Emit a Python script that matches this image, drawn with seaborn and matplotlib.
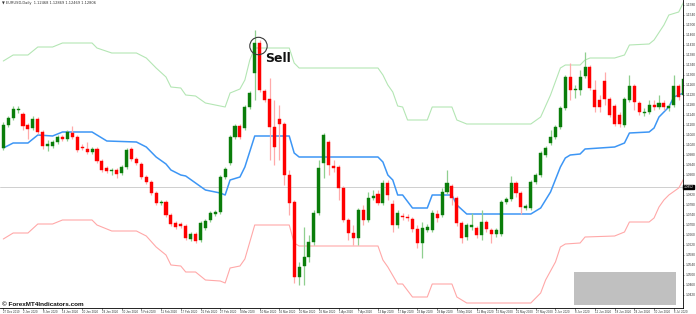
import numpy as np
import pandas as pd
import matplotlib
matplotlib.use("Agg")
import matplotlib.pyplot as plt
import seaborn as sns
from matplotlib.patches import Ellipse, Rectangle

opens = [1.1008, 1.1100, 1.1128, 1.1160, 1.1144, 1.1100, 1.1088, 1.1124, 1.1072, 1.1016,
         1.1016, 1.1032, 1.1052, 1.1044, 1.1068, 1.1052, 1.1012, 1.1004, 1.0992, 1.1004,
         1.0956, 1.0928, 1.0916, 1.0920, 1.0908, 1.0932, 1.1004, 1.0964, 1.0944, 1.0892,
         1.0872, 1.0828, 1.0788, 1.0792, 1.0740, 1.0708, 1.0704, 1.0696, 1.0644, 1.0664,
         1.0640, 1.0688, 1.0720, 1.0744, 1.0752, 1.0892, 1.0948, 1.1052, 1.1096, 1.1088,
         1.1172, 1.1308, 1.1428, 1.1236, 1.1204, 1.1092, 1.1124, 1.1104, 1.0900, 1.0792,
         1.0492, 1.0536, 1.0572, 1.0632, 1.0748, 1.0948, 1.1032, 1.0936, 1.0932, 1.0848,
         1.0720, 1.0668, 1.0648, 1.0760, 1.0720, 1.0808, 1.0824, 1.0788, 1.0868, 1.0784,
         1.0700, 1.0736, 1.0732, 1.0724, 1.0684, 1.0628, 1.0680, 1.0680, 1.0744, 1.0740,
         1.0832, 1.0856, 1.0808, 1.0708, 1.0652, 1.0692, 1.0688, 1.0660, 1.0712, 1.0680,
         1.0664, 1.0664, 1.0792, 1.0804, 1.0868, 1.0828, 1.0768, 1.0768, 1.0872, 1.0900,
         1.0980, 1.1028, 1.1052, 1.1092, 1.1168, 1.1292, 1.1240, 1.1240, 1.1296, 1.1332,
         1.1240, 1.1200, 1.1276, 1.1204, 1.1176, 1.1140, 1.1100, 1.1200, 1.1256, 1.1188,
         1.1148, 1.1152, 1.1180, 1.1172, 1.1188, 1.1168, 1.1180, 1.1256, 1.1220]
closes = [1.1100, 1.1128, 1.1164, 1.1164, 1.1096, 1.1084, 1.1124, 1.1072, 1.1016, 1.1024,
          1.1032, 1.1052, 1.1044, 1.1072, 1.1052, 1.1000, 1.1008, 1.0992, 1.1004, 1.0956,
          1.0920, 1.0916, 1.0920, 1.0904, 1.0932, 1.1000, 1.0964, 1.0948, 1.0892, 1.0872,
          1.0828, 1.0788, 1.0792, 1.0740, 1.0704, 1.0692, 1.0696, 1.0648, 1.0664, 1.0636,
          1.0708, 1.0716, 1.0748, 1.0752, 1.0892, 1.0924, 1.1052, 1.1096, 1.1052, 1.1172,
          1.1228, 1.1428, 1.1240, 1.1200, 1.1092, 1.1012, 1.1104, 1.0900, 1.0788, 1.0492,
          1.0532, 1.0572, 1.0632, 1.0748, 1.0928, 1.1060, 1.0940, 1.0928, 1.0848, 1.0720,
          1.0668, 1.0648, 1.0760, 1.0720, 1.0808, 1.0816, 1.0788, 1.0868, 1.0820, 1.0700,
          1.0748, 1.0732, 1.0728, 1.0684, 1.0628, 1.0688, 1.0692, 1.0748, 1.0728, 1.0832,
          1.0868, 1.0808, 1.0708, 1.0648, 1.0700, 1.0700, 1.0660, 1.0712, 1.0684, 1.0664,
          1.0680, 1.0792, 1.0804, 1.0868, 1.0828, 1.0772, 1.0776, 1.0872, 1.0900, 1.0988,
          1.1008, 1.1052, 1.1092, 1.1168, 1.1292, 1.1240, 1.1244, 1.1292, 1.1332, 1.1248,
          1.1172, 1.1172, 1.1204, 1.1140, 1.1104, 1.1104, 1.1204, 1.1256, 1.1192, 1.1152,
          1.1152, 1.1180, 1.1172, 1.1188, 1.1172, 1.1176, 1.1256, 1.1212, 1.1284]
highs = [1.1112, 1.1136, 1.1176, 1.1176, 1.1152, 1.1108, 1.1136, 1.1132, 1.1080, 1.1040,
         1.1040, 1.1060, 1.1060, 1.1080, 1.1096, 1.1060, 1.1024, 1.1032, 1.1012, 1.1012,
         1.0964, 1.0936, 1.0928, 1.0928, 1.0940, 1.1008, 1.1012, 1.0972, 1.0952, 1.0900,
         1.0880, 1.0836, 1.0800, 1.0800, 1.0748, 1.0716, 1.0712, 1.0704, 1.0672, 1.0672,
         1.0716, 1.0724, 1.0756, 1.0760, 1.0900, 1.0932, 1.1060, 1.1104, 1.1104, 1.1180,
         1.1236, 1.1480, 1.1440, 1.1244, 1.1288, 1.1200, 1.1180, 1.1112, 1.0920, 1.0800,
         1.0552, 1.0692, 1.0660, 1.0760, 1.0960, 1.1068, 1.1040, 1.0960, 1.0940, 1.0856,
         1.0728, 1.0700, 1.0768, 1.0780, 1.0832, 1.0840, 1.0840, 1.0880, 1.0880, 1.0800,
         1.0760, 1.0748, 1.0744, 1.0732, 1.0700, 1.0712, 1.0704, 1.0760, 1.0760, 1.0848,
         1.0920, 1.0864, 1.0816, 1.0716, 1.0708, 1.0748, 1.0696, 1.0760, 1.0720, 1.0688,
         1.0688, 1.0800, 1.0812, 1.0896, 1.0876, 1.0836, 1.0784, 1.0880, 1.0908, 1.0996,
         1.1016, 1.1080, 1.1100, 1.1176, 1.1300, 1.1348, 1.1260, 1.1320, 1.1392, 1.1340,
         1.1280, 1.1220, 1.1312, 1.1212, 1.1184, 1.1152, 1.1212, 1.1300, 1.1264, 1.1196,
         1.1168, 1.1200, 1.1200, 1.1220, 1.1200, 1.1184, 1.1300, 1.1264, 1.1312]
lows = [1.1000, 1.1092, 1.1120, 1.1148, 1.1080, 1.1044, 1.1080, 1.1064, 1.1004, 1.0996,
        1.1008, 1.1024, 1.1036, 1.1036, 1.1044, 1.0992, 1.1000, 1.0984, 1.0984, 1.0948,
        1.0912, 1.0908, 1.0900, 1.0888, 1.0900, 1.0924, 1.0956, 1.0940, 1.0884, 1.0864,
        1.0820, 1.0780, 1.0780, 1.0732, 1.0696, 1.0684, 1.0688, 1.0640, 1.0636, 1.0628,
        1.0632, 1.0680, 1.0712, 1.0736, 1.0744, 1.0884, 1.0940, 1.1044, 1.1044, 1.1080,
        1.1164, 1.1200, 1.1232, 1.1192, 1.0960, 1.0940, 1.0960, 1.0860, 1.0740, 1.0468,
        1.0460, 1.0460, 1.0552, 1.0620, 1.0740, 1.0888, 1.0900, 1.0912, 1.0800, 1.0712,
        1.0640, 1.0620, 1.0620, 1.0700, 1.0712, 1.0800, 1.0780, 1.0780, 1.0800, 1.0672,
        1.0688, 1.0720, 1.0716, 1.0672, 1.0608, 1.0568, 1.0672, 1.0672, 1.0712, 1.0732,
        1.0824, 1.0780, 1.0696, 1.0628, 1.0640, 1.0680, 1.0648, 1.0640, 1.0672, 1.0628,
        1.0652, 1.0656, 1.0784, 1.0796, 1.0812, 1.0744, 1.0760, 1.0760, 1.0864, 1.0892,
        1.0972, 1.1020, 1.1044, 1.1084, 1.1160, 1.1200, 1.1208, 1.1220, 1.1288, 1.1240,
        1.1152, 1.1152, 1.1180, 1.1132, 1.1096, 1.1092, 1.1092, 1.1192, 1.1160, 1.1140,
        1.1136, 1.1144, 1.1160, 1.1164, 1.1160, 1.1156, 1.1172, 1.1200, 1.1212]

upper_idx = [0, 2, 5, 7, 10, 12, 18, 19, 22, 27, 29, 31, 33, 34, 36, 37, 39, 41, 44, 45,
             46, 48, 49, 50, 51, 58, 59, 60, 76, 77, 78, 79, 80, 81, 82, 86, 87, 91, 92, 94,
             107, 109, 111, 113, 114, 117, 118, 119, 124, 126, 127, 131, 132, 134, 135, 137, 138]
upper_val = [1.1356, 1.1380, 1.1380, 1.1412, 1.1412, 1.1428, 1.1428, 1.1408, 1.1388, 1.1388,
             1.1368, 1.1328, 1.1292, 1.1252, 1.1248, 1.1220, 1.1216, 1.1188, 1.1176, 1.1172,
             1.1228, 1.1244, 1.1280, 1.1360, 1.1408, 1.1408, 1.1348, 1.1328, 1.1328, 1.1300,
             1.1260, 1.1232, 1.1176, 1.1172, 1.1120, 1.1120, 1.1172, 1.1172, 1.1120, 1.1104,
             1.1104, 1.1132, 1.1220, 1.1328, 1.1340, 1.1340, 1.1360, 1.1368, 1.1368, 1.1380,
             1.1420, 1.1424, 1.1440, 1.1500, 1.1540, 1.1552, 1.1592]

mid_idx = [0, 2, 5, 7, 10, 12, 18, 21, 27, 29, 31, 33, 34, 36, 37, 39, 41, 44, 45, 46,
           48, 49, 51, 58, 59, 60, 76, 77, 78, 79, 80, 81, 83, 86, 87, 91, 92, 94, 107, 109,
           111, 113, 114, 115, 117, 118, 124, 126, 127, 131, 132, 133, 135, 136, 138]
mid_val = [1.1008, 1.1028, 1.1028, 1.1060, 1.1056, 1.1072, 1.1072, 1.1036, 1.1032, 1.1012,
           1.0972, 1.0944, 1.0920, 1.0900, 1.0896, 1.0868, 1.0840, 1.0828, 1.0820, 1.0880,
           1.0892, 1.0932, 1.1056, 1.1056, 1.0988, 1.0972, 1.0972, 1.0952, 1.0900, 1.0880,
           1.0820, 1.0820, 1.0768, 1.0768, 1.0820, 1.0820, 1.0780, 1.0744, 1.0744, 1.0768,
           1.0832, 1.0932, 1.0968, 1.0980, 1.0984, 1.1004, 1.1012, 1.1028, 1.1068, 1.1072,
           1.1088, 1.1132, 1.1172, 1.1212, 1.1228]

lower_idx = [0, 2, 5, 7, 10, 12, 18, 19, 22, 27, 29, 31, 33, 34, 36, 37, 39, 41, 44, 45,
             46, 48, 49, 51, 58, 59, 60, 76, 77, 78, 80, 81, 83, 86, 87, 91, 92, 94, 107, 109,
             110, 112, 113, 114, 117, 118, 124, 126, 127, 131, 132, 133, 134, 135, 137, 138]
lower_val = [1.0644, 1.0668, 1.0668, 1.0704, 1.0704, 1.0720, 1.0720, 1.0700, 1.0676, 1.0676,
             1.0656, 1.0612, 1.0580, 1.0540, 1.0536, 1.0512, 1.0512, 1.0480, 1.0476, 1.0468,
             1.0528, 1.0536, 1.0564, 1.0700, 1.0700, 1.0628, 1.0616, 1.0616, 1.0560, 1.0532,
             1.0464, 1.0464, 1.0412, 1.0412, 1.0464, 1.0464, 1.0412, 1.0388, 1.0388, 1.0428,
             1.0480, 1.0552, 1.0612, 1.0624, 1.0628, 1.0652, 1.0656, 1.0672, 1.0712, 1.0712,
             1.0728, 1.0772, 1.0800, 1.0820, 1.0848, 1.0884]

date_ticks = [0, 4, 8, 12, 16, 20, 24, 28, 32, 36, 40, 44, 48, 52, 56, 60, 64, 68, 72, 76,
              80, 84, 88, 92, 96, 100, 104, 108, 112, 116, 120, 124, 128, 132, 136]
date_labels = ["27 Dec 2019", "2 Jan 2020", "8 Jan 2020", "14 Jan 2020", "20 Jan 2020",
               "24 Jan 2020", "30 Jan 2020", "5 Feb 2020", "11 Feb 2020", "17 Feb 2020",
               "21 Feb 2020", "27 Feb 2020", "4 Mar 2020", "10 Mar 2020", "16 Mar 2020",
               "20 Mar 2020", "26 Mar 2020", "1 Apr 2020", "7 Apr 2020", "13 Apr 2020",
               "17 Apr 2020", "23 Apr 2020", "29 Apr 2020", "5 May 2020", "11 May 2020",
               "15 May 2020", "21 May 2020", "27 May 2020", "2 Jun 2020", "8 Jun 2020",
               "12 Jun 2020", "18 Jun 2020", "24 Jun 2020", "30 Jun 2020", "6 Jul 2020"]
price_ticks = [1.1580, 1.1540, 1.1500, 1.1460, 1.1420, 1.1380, 1.1340, 1.1300, 1.1260,
               1.1220, 1.1180, 1.1140, 1.1100, 1.1060, 1.1020, 1.0980, 1.0940, 1.0900,
               1.0820, 1.0780, 1.0740, 1.0700, 1.0660, 1.0620, 1.0580, 1.0540,
               1.0500, 1.0460, 1.0420]
hline_price = 1.0852
header_text = "EURUSD,Daily  1.12468 1.12869 1.12469 1.12806"

sns.set_theme(style="white")
plt.rcParams["font.family"] = ["Liberation Sans", "DejaVu Sans"]

fig = plt.figure(figsize=(6.96, 3.14), dpi=100)
ax = fig.add_axes([0, 6 / 314, 683 / 696, 308 / 314])

df = pd.DataFrame({"o": opens, "h": highs, "l": lows, "c": closes})
df["i"] = np.arange(len(df))
df["up"] = df["c"] >= df["o"]
df["bottom"] = df[["o", "c"]].min(axis=1)
df["height"] = (df["c"] - df["o"]).abs().clip(lower=0.00035)

GREEN = "#0a7d0a"
RED = "#ff0000"
up = df[df["up"]]
dn = df[~df["up"]]
ax.vlines(up["i"], up["l"], up["h"], color="#8fcf8f", lw=0.9, zorder=2)
ax.vlines(dn["i"], dn["l"], dn["h"], color="#ffaaaa", lw=0.9, zorder=2)
ax.bar(up["i"], up["height"], bottom=up["bottom"], width=0.62, color=GREEN,
       edgecolor=GREEN, linewidth=0.3, zorder=3)
ax.bar(dn["i"], dn["height"], bottom=dn["bottom"], width=0.62, color=RED,
       edgecolor=RED, linewidth=0.3, zorder=3)

sns.lineplot(x=upper_idx, y=upper_val, ax=ax, color="#b4e6b4", lw=0.8, zorder=1)
sns.lineplot(x=mid_idx, y=mid_val, ax=ax, color="#3d96f5", lw=1.1, zorder=1)
sns.lineplot(x=lower_idx, y=lower_val, ax=ax, color="#ffa8a8", lw=0.8, zorder=1)

ax.axhline(hline_price, color="#c8c8c8", lw=0.6, zorder=0)

ax.set_xlim(-0.67, 137.87)
ax.set_ylim(1.0368, 1.1600)

# Sell annotation
ax.add_patch(Ellipse((51.76, 1.1416), 3.53, 0.00696, fill=False, ec="#3a3a3a", lw=0.8, zorder=5))
ax.text(53.1, 1.1364, "Sell", fontsize=9, fontweight="bold", color="#111111",
        ha="left", va="center", zorder=5, family=["DejaVu Sans"])

# grey box bottom right
ax.add_patch(Rectangle((115.76, 1.0380), 20.7, 0.0130, color="#c0c0c0", zorder=4, lw=0))

# axes styling
for s in ["top", "left"]:
    ax.spines[s].set_visible(False)
for s in ["right", "bottom"]:
    ax.spines[s].set_color("#000000")
    ax.spines[s].set_linewidth(0.6)
ax.yaxis.tick_right()
ax.set_yticks(price_ticks)
ax.set_yticklabels([f"{p:.4f}" for p in price_ticks], fontsize=2.3, color="#333333")
ax.tick_params(axis="y", length=1.0, width=0.4, pad=0.6, right=True)
ax.set_xticks(date_ticks)
ax.set_xticklabels(date_labels, fontsize=2.1, color="#333333", ha="left")
ax.tick_params(axis="x", length=1.2, width=0.4, pad=0.5, bottom=True)
ax.set_xlabel("")
ax.set_ylabel("")
ax.grid(False)

# current price marker
ax.text(1.0012, hline_price, f"{hline_price:.4f}", transform=ax.get_yaxis_transform(),
        fontsize=2.3, color="white", ha="left", va="center",
        bbox=dict(boxstyle="square,pad=0.15", fc="black", ec="black"), clip_on=False)

fig.text(2 / 696, 1 - 3 / 314, "\u25bc " + header_text, fontsize=2.6, color="#333333",
         ha="left", va="center", family=["DejaVu Sans"])
fig.text(2 / 696, 1 - 304 / 314, "\u00a9 ForexMT4Indicators.com", fontsize=4.6,
         fontweight="bold", color="#111111", ha="left", va="center")

fig.savefig("out.png", dpi=100)
